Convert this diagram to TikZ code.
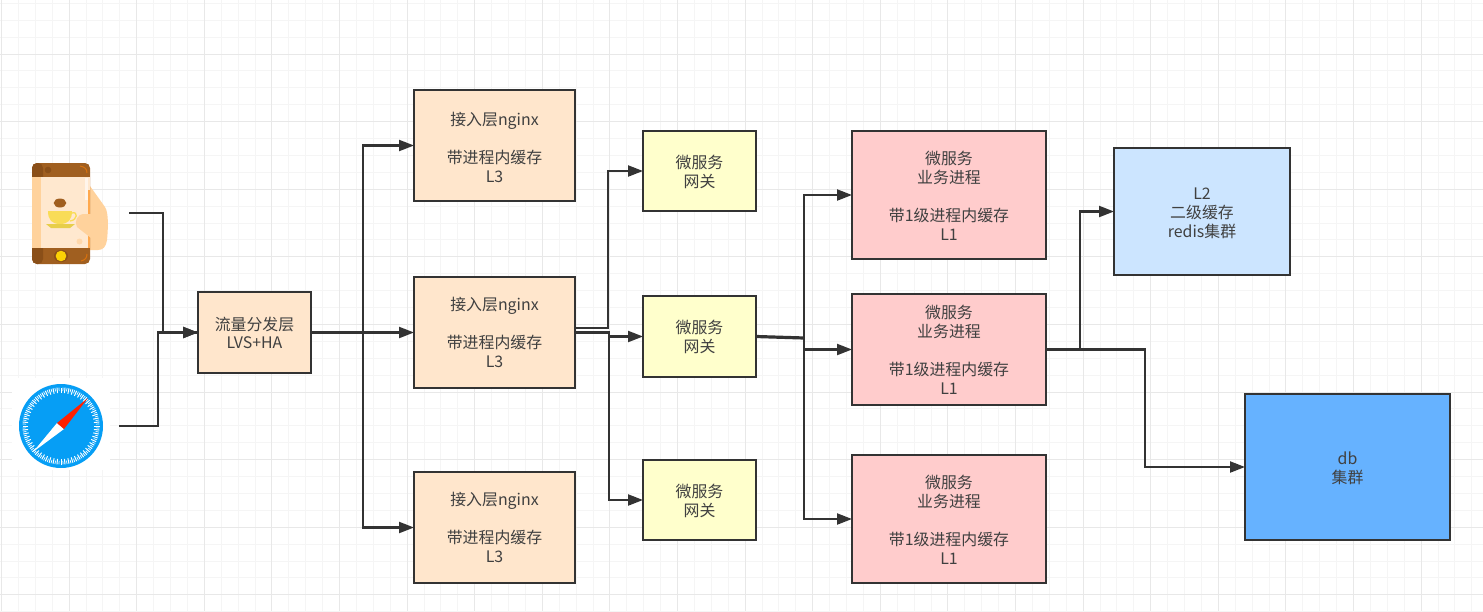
\documentclass[tikz,border=0pt]{standalone}
\usepackage{fontspec}
\setmainfont{Noto Sans CJK SC}
\usetikzlibrary{arrows.meta}
\newcommand{\dnl}{\rule{0pt}{15pt}}
\definecolor{linegray}{HTML}{333333}
\definecolor{txtgray}{HTML}{404040}
\definecolor{gridminor}{HTML}{F5F5F5}
\definecolor{gridmajor}{HTML}{E8E8E8}
\definecolor{peach}{HTML}{FFE6CC}
\definecolor{paleyellow}{HTML}{FFFFCC}
\definecolor{palered}{HTML}{FFCCCC}
\definecolor{paleblue}{HTML}{CCE5FF}
\definecolor{midblue}{HTML}{66B2FF}
\definecolor{coffee}{HTML}{A05F20}
\definecolor{coffeedark}{HTML}{8A4F18}
\definecolor{skin}{HTML}{FFD29C}
\definecolor{screen}{HTML}{FFE8CF}
\definecolor{cupyellow}{HTML}{F9DC57}
\definecolor{safariblue}{HTML}{069EF5}

\begin{document}
\begin{tikzpicture}[x=1pt, y=-1pt,
  font=\fontsize{15.9}{19}\selectfont,
  box/.style={draw=linegray, line width=2.2pt, text=txtgray, align=center, inner sep=0pt, outer sep=0pt},
  nbox/.style={box, fill=peach, minimum width=161pt, minimum height=111pt},
  gbox/.style={box, fill=paleyellow, minimum width=113pt, minimum height=80pt},
  sbox/.style={box, fill=palered, minimum width=194pt},
  arr/.style={draw=linegray, line width=2.2pt, -{Triangle[length=15pt,width=11pt]}},
  thk/.style={draw=linegray, line width=3.2pt},
  ]

\useasboundingbox (0,0) rectangle (1483,611);
\fill[white] (0,0) rectangle (1483,611);

% grid
\foreach \k in {0,...,88} {
  \draw[gridminor, line width=1pt] (1.5+16.9*\k,0) -- (1.5+16.9*\k,611);
}
\foreach \k in {0,...,36} {
  \draw[gridminor, line width=1pt] (0,3.3+16.9*\k) -- (1483,3.3+16.9*\k);
}
\foreach \k in {0,...,22} {
  \draw[gridmajor, line width=1pt] (1.5+67.6*\k,0) -- (1.5+67.6*\k,611);
}
\foreach \k in {0,...,8} {
  \draw[gridmajor, line width=1pt] (0,54+67.6*\k) -- (1483,54+67.6*\k);
}

% phone icon
\fill[skin] (90,186) -- (105,207) .. controls (109,213) and (108,230) .. (107,240) .. controls (106,247) and (103,250) .. (98,250) -- (85,250) -- (80,225) -- cycle;
\fill[rounded corners=5pt, coffee] (32,163) rectangle (90,264);
\fill[coffeedark, rounded corners=5pt] (32,163) rectangle (43,264);
\fill[screen] (32,177) rectangle (90,248);
\fill[skin] (32,177) rectangle (41,248);
\fill[coffeedark] (48,170) circle (3.3pt);
\draw[orange!60!coffee, line width=1pt] (80,166) .. controls (85,167) and (87,169) .. (87,173);
\draw[orange!60!coffee, line width=1pt] (87,254) .. controls (87,258) and (85,260) .. (81,261);
\fill[coffeedark] (61,256) ellipse (7pt and 6pt);
\fill[yellow!70!orange] (61,256) circle (5.3pt);
\fill[coffee] (60,203) ellipse (6.3pt and 4.5pt);
\fill[cupyellow] (48,211) -- (72,211) .. controls (72,220) and (68,224) .. (60,224) .. controls (52,224) and (48,220) .. (48,211) -- cycle;
\draw[cupyellow, line width=1.3pt] (72,213) .. controls (78,211) and (78,220) .. (70,221);
\fill[cupyellow!85!olive] (46,224) -- (75,224) -- (70,228) -- (51,228) -- cycle;
\fill[skin!70!screen] (79.5,241.5) circle (3pt);
\fill[orange!50!skin] (88,190) rectangle (90,248);
\fill[white, opacity=.6] (85,178) rectangle (87.5,200);
\fill[skin] (84,214) .. controls (77,214) and (74,222) .. (77,227) -- (91,238) -- (100,230) -- (100,214) -- cycle;

% safari icon
\fill[white] (12,378) rectangle (110,470);
\fill[safariblue] (61,426) circle (42pt);
\foreach \a in {0,6,...,354} {
  \draw[white, line width=1pt] (61,426) ++(\a:33pt) -- ++(\a:5.5pt);
}
\foreach \a in {3,9,...,357} {
  \draw[white, line width=.7pt] (61,426) ++(\a:35pt) -- ++(\a:3.5pt);
}
\fill[white] (33,452) -- (57,423) -- (64,429) -- cycle;
\fill[red!75!orange] (88,398) -- (57,423) -- (64,429) -- cycle;

% free ends of the two clients
\coordinate (phone) at (129,213);
\coordinate (safari) at (119,426);

\path (254.5,332.5) node[box, fill=peach, minimum width=113pt, minimum height=81pt](lvs){流量分发层\\[-1pt]LVS+HA};

\path (494.5,145.5) node[nbox](ng1){\rule{0pt}{18pt}接入层nginx\\[19pt]带进程内缓存\\L3};
\path (494.5,332.5) node[nbox](ng2){接入层nginx\\[19pt]带进程内缓存\\L3};
\path (494.5,527.5) node[nbox](ng3){接入层nginx\\[19pt]带进程内缓存\\L3};

\path (699.5,171) node[gbox](gw1){\dnl 微服务\\网关};
\path (699.5,336.5) node[gbox, minimum height=81pt](gw2){\dnl 微服务\\网关};
\path (699.5,500) node[gbox](gw3){\dnl 微服务\\网关};

\path (949,195) node[sbox, minimum height=128pt](sv1){\dnl 微服务\\业务进程\\[19pt]带1级进程内缓存\\L1};
\path (949,349.5) node[sbox, minimum height=111pt](sv2){微服务\\业务进程\\[19pt]带1级进程内缓存\\L1};
\path (949,519) node[sbox, minimum height=128pt](sv3){\dnl 微服务\\业务进程\\[19pt]带1级进程内缓存\\L1};

\path (1202,211.5) node[box, fill=paleblue, minimum width=176pt, minimum height=127pt](l2){\dnl L2\\二级缓存\\redis集群};
\path (1347.5,467) node[box, fill=midblue, minimum width=205pt, minimum height=146pt](db){\dnl db\\集群};

\draw[arr] (phone) -- ++(34,0) coordinate(ph1) -- (ph1 |- lvs.west) -- (lvs.west);
\draw[arr] (safari) -- ++(39,0) coordinate(sf1) -- (sf1 |- lvs.west) -- (lvs.west);
\draw[thk] (sf1 |- lvs.west) -- (lvs.west);

\path (lvs.east) ++(52,0) coordinate(lv1);
\draw[arr] (lvs.east) -- (ng2.west);
\draw[thk] (lvs.east) -- (lv1);
\draw[arr] (lv1) -- (lv1 |- ng1.west) -- (ng1.west);
\draw[arr] (lv1) -- (lv1 |- ng3.west) -- (ng3.west);

\path (ng2.east) ++(0,-4.5) coordinate(n1);
\path (ng2.east) ++(34,0) coordinate(n2);
\draw[arr] (n1) -- ++(33,0) coordinate(n3) -- (n3 |- gw1.west) -- (gw1.west);
\draw[arr] (ng2.east) -- (n2) -- (n2 |- gw2.west) -- (gw2.west);
\draw[arr] (n2) -- (n2 |- gw3.west) -- (gw3.west);

\path (gw2.east) ++(48,1.5) coordinate(g1);
\draw[thk] (gw2.east) -- (g1);
\draw[arr] (g1) -- (g1 |- sv1.west) -- (sv1.west);
\draw[arr] (g1) -- (g1 |- sv2.west) -- (sv2.west);
\draw[arr] (g1) -- (g1 |- sv3.west) -- (sv3.west);

\path (sv2.east) ++(34,0) coordinate(s1);
\draw[thk] (sv2.east) -- (s1);
\draw[arr] (s1) -- (s1 |- l2.west) -- (l2.west);
\draw[arr] (sv2.east) -- ++(99,0) coordinate(s2) -- (s2 |- db.west) -- (db.west);

\end{tikzpicture}
\end{document}
